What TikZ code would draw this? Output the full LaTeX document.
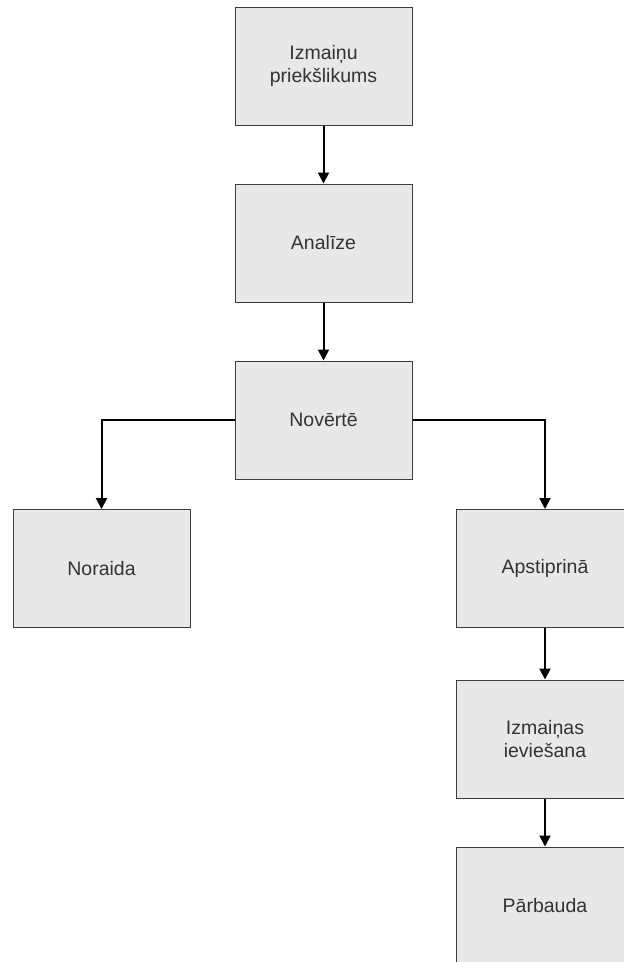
\documentclass[tikz,border=0pt]{standalone}
\usepackage{fontspec}
\setmainfont{Liberation Sans}
\usetikzlibrary{arrows.meta}
\definecolor{boxfill}{HTML}{E8E8E8}
\definecolor{boxline}{HTML}{3C3C3C}
\definecolor{labelgray}{HTML}{333333}
\begin{document}
\begin{tikzpicture}[x=1pt,y=-1pt,
  stage/.style={draw=boxline, fill=boxfill, line width=1pt,
    minimum width=177pt, minimum height=118pt, inner sep=0pt,
    align=center, text=labelgray,
    font=\fontsize{19.5}{22.7}\selectfont},
  flow/.style={line width=2pt, draw=black,
    -{Triangle[length=11pt,width=11pt]}}]
  \useasboundingbox (0,0) rectangle (624,962);
  \clip (0,0) rectangle (624,962);

  % process stages
  \node[stage] (prop)  at (323.5,66)  {Izmaiņu\\priekšlikums};
  \node[stage] (anal)  at (323.5,243) {Analīze};
  \node[stage] (eval)  at (323.5,420) {Novērtē};
  \node[stage] (rej)   at (101.5,568.5) {Noraida};
  \node[stage] (appr)  at (545,568.5) {Apstiprinā};
  \node[stage] (impl)  at (545,739)   {Izmaiņas\\ieviešana};
  \node[stage] (check) at (545,906)   {Pārbauda};

  % transitions
  \draw[flow] (prop) -- (anal);
  \draw[flow] (anal) -- (eval);
  \draw[flow] (eval.west) -| (rej.north);
  \draw[flow] (eval.east) -| (appr.north);
  \draw[flow] (appr) -- (impl);
  \draw[flow] (impl) -- (check);
\end{tikzpicture}
\end{document}
